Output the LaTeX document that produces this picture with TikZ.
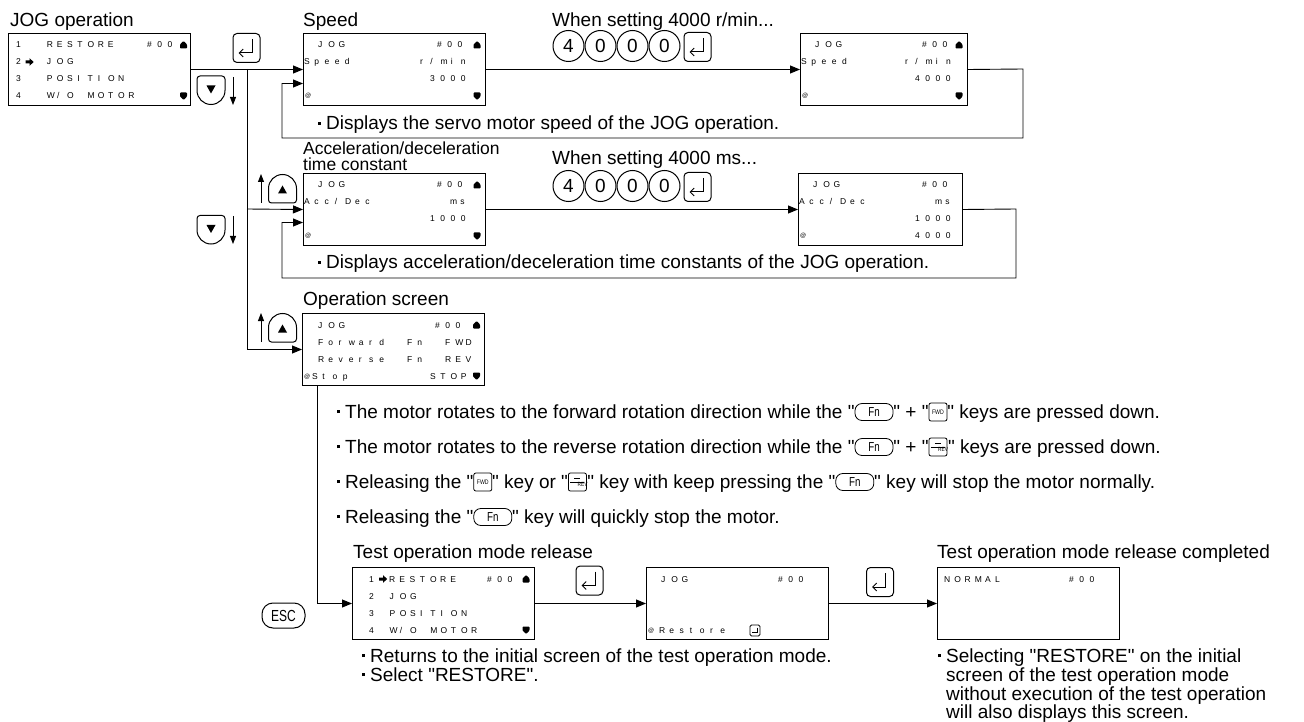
\documentclass[tikz,border=0pt]{standalone}
\usepackage{fontspec}
\usepackage{graphicx}
\setmainfont{Liberation Sans}
\newfontfamily\txtfont{Liberation Sans}
\newfontfamily\lcdfont{Liberation Sans}
\usetikzlibrary{arrows.meta,shapes.geometric}

\makeatletter
\newlength\lcdpitch
\setlength\lcdpitch{10.2pt}
\newcommand\lcd[1]{{\lcdfont\fontsize{8.5}{10}\selectfont\@tfor\lcd@c:=#1\do{\makebox[\lcdpitch][l]{\lcd@c}}}}
\makeatother

\newcommand\bul{\raisebox{5pt}{\rule{3pt}{3pt}}\hspace{5pt}}
\newcommand\kFn{\tikz[x=1pt,y=1pt,baseline={([yshift=-6pt]kf.center)}]\node[draw,line width=0.8pt,rounded corners=7pt,minimum width=38pt,minimum height=17pt,inner sep=0pt](kf){\fontsize{13}{13}\selectfont\scalebox{0.75}[1]{Fn}};}
\newcommand\kFWD{\tikz[x=1pt,y=1pt,baseline={([yshift=-6pt]kw.center)}]\node[draw,line width=0.8pt,rounded corners=2pt,minimum width=18pt,minimum height=18pt,inner sep=0pt](kw){\fontsize{6.5}{6.5}\selectfont\scalebox{0.8}[1]{FWD}};}
\newcommand\kREV{\tikz[x=1pt,y=1pt,baseline={([yshift=-6pt]kr.center)}]{\node[draw,line width=0.8pt,rounded corners=2pt,minimum width=18pt,minimum height=18pt,inner sep=0pt](kr){};
 \draw[line width=0.7pt] ([xshift=-3pt,yshift=4pt]kr.center) -- ([xshift=3pt,yshift=4pt]kr.center);
 \draw[line width=0.5pt] ([xshift=-7pt]kr.center) -- ([xshift=7pt]kr.center);
 \node[inner sep=0pt] at ([yshift=-4.5pt]kr.center) {\fontsize{6}{6}\selectfont\scalebox{0.8}[1]{REV}};}}

\newcommand\lrow[4]{\node[lc] at ([xshift=#2pt,yshift=-#3pt]#1.north west) {\lcd{#4}};}
\newcommand\atsym[1]{\node[lc] at ([xshift=2pt,yshift=-65pt]#1.north west) {\fontsize{6}{6}\selectfont @};}
\newcommand\fatarr[1]{\fill[shift={#1}] (-4,-1.5) -- (0,-1.5) -- (0,-3.8) -- (4.2,0) -- (0,3.8) -- (0,1.5) -- (-4,1.5) -- cycle;}
\newcommand\upmark[1]{\fill[shift={#1},rounded corners=0.8pt] (-3.5,3.5) -- (-3.5,-0.5) -- (0,-4) -- (3.5,-0.5) -- (3.5,3.5) -- cycle;}
\newcommand\dnmark[1]{\fill[shift={#1},rounded corners=0.8pt] (-3.5,-3.5) -- (-3.5,0.5) -- (0,4) -- (3.5,0.5) -- (3.5,-3.5) -- cycle;}

\tikzset{
  enterkey/.pic={
    \draw[line width=1pt,rounded corners=4pt] (-13.5,-14.5) rectangle (13.5,14.5);
    \draw[line width=1pt,-{Straight Barb[length=4pt,width=8pt]}] (5.5,-9) -- (5.5,5) -- (-8,5);},
  downkey/.pic={
    \draw[line width=1pt] (-14,0) [rounded corners=3pt] -- (-14,-14.5) -- (14,-14.5) [sharp corners] -- (14,0) arc[start angle=0,end angle=180,radius=14] -- cycle;
    \fill (-4.5,-5) -- (4.5,-5) -- (0,3) -- cycle;},
  upkey/.pic={
    \draw[line width=1pt] (-14,0) [rounded corners=3pt] -- (-14,14.5) -- (14,14.5) [sharp corners] -- (14,0) arc[start angle=0,end angle=-180,radius=14] -- cycle;
    \fill (-4.5,5) -- (4.5,5) -- (0,-3) -- cycle;},
}

\begin{document}
\begin{tikzpicture}[x=1pt,y=-1pt,
  screen/.style={draw,line width=1pt,minimum width=182pt,minimum height=72pt,inner sep=0pt,anchor=north west},
  lc/.style={anchor=base west,inner sep=0pt},
  lbl/.style={anchor=base west,inner sep=0pt,font=\txtfont\fontsize{19}{22}\selectfont},
  conn/.style={line width=0.9pt},
  arr/.style={line width=0.9pt,-{Triangle[length=10pt,width=8pt]}},
  dkey/.style={draw,circle,line width=1pt,inner sep=0pt,minimum size=31pt,font=\fontsize{19}{19}\selectfont},
  esckey/.style={draw,line width=1pt,rounded corners=11pt,minimum width=43pt,minimum height=25pt,inner sep=0pt,font=\fontsize{16}{16}\selectfont},
]
\useasboundingbox (0,0) rectangle (1304,722);

% ---------- labels ----------
\node[lbl] (lab1) at (10,27) {JOG operation};
\node[lbl] (lab2) at (303,27) {Speed};
\node[lbl] (lab3) at (552,27) {When setting 4000 r/min...};
\node[lbl,font=\txtfont\fontsize{17.5}{20}\selectfont] (lab4) at (303,155) {Acceleration/deceleration};
\node[lbl,font=\txtfont\fontsize{17.5}{20}\selectfont] (lab5) at (303,171) {time constant};
\node[lbl] (lab6) at (552,165) {When setting 4000 ms...};
\node[lbl] (lab7) at (303,305) {Operation screen};
\node[lbl] (lab8) at (353,558) {Test operation mode release};
\node[lbl] (lab9) at (937,558) {Test operation mode release completed};

% ---------- screen A ----------
\node[screen] (A) at (8,33) {};
\lrow{A}{8}{15}{1~~RESTORE}
\lrow{A}{139}{15}{\#00}
\lrow{A}{8}{32}{2}
\fatarr{(29.5,62)}
\lrow{A}{38.6}{32}{JOG}
\lrow{A}{8}{49}{3~~POSITION}
\lrow{A}{8}{66}{4~~W/O~MOTOR}
\upmark{(183.5,45)}
\dnmark{(183.5,96)}

% ---------- screen B ----------
\node[screen] (B) at (303,33) {};
\lrow{B}{15}{15}{JOG}
\lrow{B}{134}{15}{\#00}
\lrow{B}{1}{32}{Speed}
\lrow{B}{117}{32}{r/min}
\lrow{B}{127}{49}{3000}
\atsym{B}
\upmark{(477,45)}
\dnmark{(477,96)}

% ---------- screen C ----------
\node[screen,minimum width=167pt] (C) at (800,33) {};
\lrow{C}{15}{15}{JOG}
\lrow{C}{122}{15}{\#00}
\lrow{C}{1}{32}{Speed}
\lrow{C}{105}{32}{r/min}
\lrow{C}{115}{49}{4000}
\atsym{C}
\upmark{(959,45)}
\dnmark{(959,96)}

% ---------- screen D ----------
\node[screen] (D) at (303,173) {};
\lrow{D}{15}{15}{JOG}
\lrow{D}{134}{15}{\#00}
\lrow{D}{1}{32}{Acc/Dec}
\lrow{D}{147}{32}{ms}
\lrow{D}{127}{49}{1000}
\atsym{D}
\upmark{(477,185)}
\dnmark{(477,236)}

% ---------- screen E ----------
\node[screen,minimum width=164pt] (E) at (798,173) {};
\lrow{E}{15}{15}{JOG}
\lrow{E}{124}{15}{\#00}
\lrow{E}{1}{32}{Acc/Dec}
\lrow{E}{137}{32}{ms}
\lrow{E}{117}{49}{1000}
\lrow{E}{117}{66}{4000}
\atsym{E}

% ---------- screen F ----------
\node[screen] (F) at (302,313) {};
\lrow{F}{16}{15}{JOG}
\lrow{F}{133}{15}{\#00}
\lrow{F}{16}{32}{Forward}
\lrow{F}{105}{32}{Fn}
\lrow{F}{143}{32}{FWD}
\lrow{F}{16}{49}{Reverse}
\lrow{F}{105}{49}{Fn}
\lrow{F}{143}{49}{REV}
\atsym{F}
\lrow{F}{10}{66}{Stop}
\lrow{F}{128}{66}{STOP}
\upmark{(476.5,325)}
\dnmark{(476.5,376)}

% ---------- screen G ----------
\node[screen] (G) at (352,567) {};
\lrow{G}{17}{15}{1}
\fatarr{(383,579)}
\lrow{G}{37}{15}{RESTORE}
\lrow{G}{135}{15}{\#00}
\lrow{G}{17}{32}{2~JOG}
\lrow{G}{17}{49}{3~POSITION}
\lrow{G}{17}{66}{4~W/O~MOTOR}
\upmark{(526,579)}
\dnmark{(526,630)}

% ---------- screen H ----------
\node[screen] (H) at (646,567) {};
\lrow{H}{15}{15}{JOG}
\lrow{H}{132}{15}{\#00}
\atsym{H}
\lrow{H}{13}{66}{Restore}
\draw[line width=0.8pt,rounded corners=1.5pt] (750,625) rectangle (760,636);
\draw[line width=0.7pt] (757,627.5) -- (757,632.5) -- (752,632.5);

% ---------- screen I ----------
\node[screen] (I) at (937,567) {};
\lrow{I}{7}{15}{NORMAL}
\lrow{I}{132}{15}{\#00}

% ---------- keys ----------
\pic at (246.5,48) {enterkey};
\pic at (211,90.5) {downkey};
\draw[arr,-{Triangle[length=8pt,width=6pt]}] (233,77) -- (233,105);
\pic at (211,230) {downkey};
\draw[arr,-{Triangle[length=8pt,width=6pt]}] (233,216) -- (233,244);
\pic at (282.5,188.5) {upkey};
\draw[arr,-{Triangle[length=8pt,width=6pt]}] (261,203) -- (261,174);
\pic at (282.5,327.5) {upkey};
\draw[arr,-{Triangle[length=8pt,width=6pt]}] (261,342) -- (261,313);

\node[dkey] (k1a) at (568.5,46) {4};
\node[dkey] (k1b) at (600.5,46) {0};
\node[dkey] (k1c) at (632.5,46) {0};
\node[dkey] (k1d) at (664.5,46) {0};
\pic at (697.5,47) {enterkey};
\node[dkey] (k2a) at (568.5,186) {4};
\node[dkey] (k2b) at (600.5,186) {0};
\node[dkey] (k2c) at (632.5,186) {0};
\node[dkey] (k2d) at (664.5,186) {0};
\pic at (697.5,187) {enterkey};

\pic at (589.5,580.5) {enterkey};
\pic at (880,582) {enterkey};
\node[esckey] (esc) at (283.5,615.5) {\scalebox{0.75}[1]{ESC}};

% ---------- connectors ----------
\coordinate (j1) at (247,69);
\coordinate (j2) at (247,209);
\draw[arr] (A.east) -- (B.west);
\draw[arr] (j1) |- (F.west);
\draw[arr] (j2) -- (D.west);
\draw[arr] (B.east) -- (C.west);
\draw[arr] (D.east) -- (E.west);
\coordinate (l1a) at (1023,69);
\coordinate (l1b) at (282,138);
\draw[arr] (C.east) -- (l1a) |- (l1b) |- ([yshift=-14pt]B.west);
\coordinate (l2a) at (1016,209);
\coordinate (l2b) at (282,278);
\draw[arr] (E.east) -- (l2a) |- (l2b) |- ([yshift=-13pt]D.west);
\draw[arr] ([xshift=15pt]F.south west) |- (G.west);
\draw[arr] (G.east) -- (H.west);
\draw[arr] (H.east) -- (I.west);

% ---------- notes ----------
\node[lbl] (n1) at (318,130) {\bul Displays the servo motor speed of the JOG operation.};
\node[lbl] (n2) at (318,269) {\bul Displays acceleration/deceleration time constants of the JOG operation.};
\node[lbl] (n3) at (337,418) {\bul The motor rotates to the forward rotation direction while the "\kFn" + "\kFWD" keys are pressed down.};
\node[lbl] (n4) at (337,453) {\bul The motor rotates to the reverse rotation direction while the "\kFn" + "\kREV" keys are pressed down.};
\node[lbl] (n5) at (337,488) {\bul Releasing the "\kFWD" key or "\kREV" key with keep pressing the "\kFn" key will stop the motor normally.};
\node[lbl] (n6) at (337,523) {\bul Releasing the "\kFn" key will quickly stop the motor.};
\node[lbl] (n7) at (362,662) {\bul Returns to the initial screen of the test operation mode.};
\node[lbl] (n8) at (362,681) {\bul Select "RESTORE".};
\node[lbl] (n9) at (938,662) {\bul Selecting "RESTORE" on the initial};
\node[lbl] (n10) at (946,681) {screen of the test operation mode};
\node[lbl] (n11) at (946,700) {without execution of the test operation};
\node[lbl] (n12) at (946,718.5) {will also displays this screen.};
\end{tikzpicture}
\end{document}
